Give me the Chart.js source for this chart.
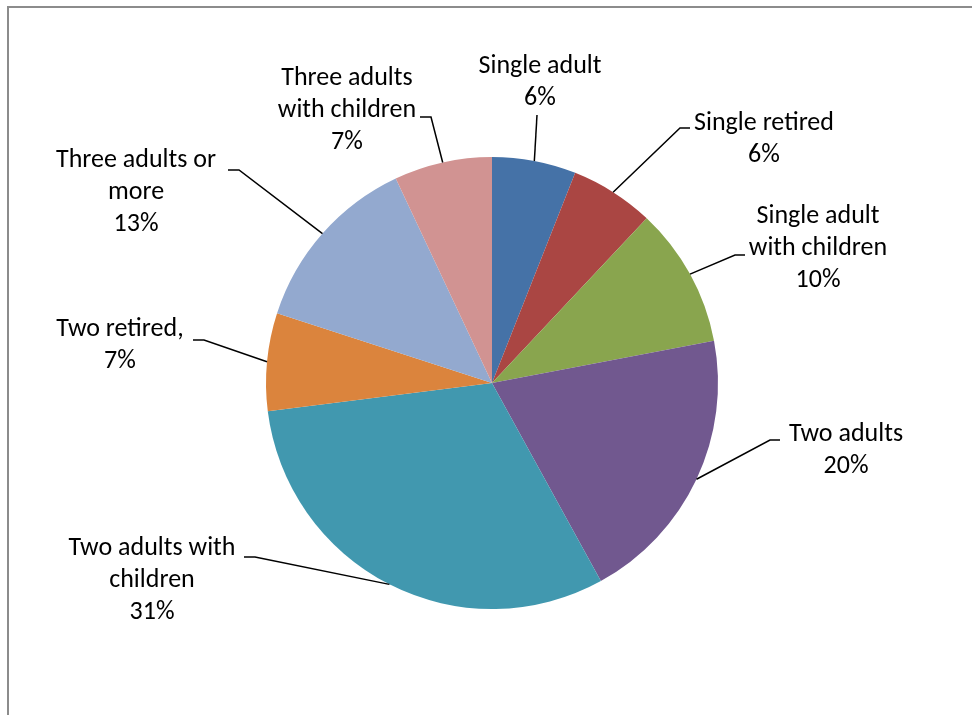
<!DOCTYPE html>
<html>
<head>
<meta charset="utf-8">
<script src="https://cdn.jsdelivr.net/npm/chart.js@4"></script>
<style>
  html, body { margin: 0; padding: 0; background: #fff; }
  #frame {
    position: absolute; left: 7px; top: 6px; width: 965px; height: 709px;
    border-top: 2px solid #8c8c8c; border-left: 2px solid #8c8c8c;
  }
  #wrap { position: absolute; left: 0; top: 0; width: 972px; height: 715px; }
</style>
</head>
<body>
<div id="frame"></div>
<div id="wrap"><canvas id="pie" width="972" height="715"></canvas></div>
<script>
// household types and their share (percent)
const categories = [
  ["Single adult"],
  ["Single retired"],
  ["Single adult", "with children"],
  ["Two adults"],
  ["Two adults with", "children"],
  ["Two retired,"],
  ["Three adults or", "more"],
  ["Three adults", "with children"]
];
const shares = [6, 6, 10, 20, 31, 7, 13, 7];
const sliceColors = ["#4572a7", "#aa4643", "#89a54e", "#71588f", "#4198af", "#db843d", "#93a9cf", "#d19392"];

// label block centre and leader end, relative to the pie centre
const labelLayout = [
  { c: [48, -301],  end: [45, -268],  side: "bottom" },
  { c: [272, -244], end: [198, -255], side: "right" },
  { c: [326, -135], end: [253, -128], side: "right" },
  { c: [354, 67],   end: [288, 57],   side: "right" },
  { c: [-340, 197], end: [-248, 174], side: "left" },
  { c: [-372, -38], end: [-299, -43], side: "left" },
  { c: [-356, -191],end: [-264, -213],side: "left" },
  { c: [-145, -273],end: [-72, -266], side: "left" }
];

const FONT = '26px Carlito, Lato, "Liberation Sans", sans-serif';
const LINE_H = 32;

const outsideLabels = {
  id: "outsideLabels",
  afterDatasetsDraw(chart) {
    const ctx = chart.ctx;
    const arcs = chart.getDatasetMeta(0).data;
    ctx.save();
    ctx.font = FONT;
    ctx.fillStyle = "#000";
    ctx.strokeStyle = "#000";
    ctx.lineWidth = 1.5;
    ctx.textAlign = "center";
    ctx.textBaseline = "middle";
    arcs.forEach(function (arc, i) {
      const p = arc.getProps(["x", "y", "startAngle", "endAngle", "outerRadius"], true);
      const mid = (p.startAngle + p.endAngle) / 2;
      const sx = p.x + Math.cos(mid) * p.outerRadius;
      const sy = p.y + Math.sin(mid) * p.outerRadius;
      const lay = labelLayout[i];
      const ex = p.x + lay.end[0], ey = p.y + lay.end[1];

      // leader line
      ctx.beginPath();
      ctx.moveTo(sx, sy);
      if (lay.side === "right") {
        ctx.lineTo(ex - 10, ey);
      } else if (lay.side === "left") {
        ctx.lineTo(ex + 11, ey);
      }
      ctx.lineTo(ex, ey);
      ctx.stroke();

      // text block
      const lines = categories[i].concat([shares[i] + "%"]);
      const cx = p.x + lay.c[0];
      const top = p.y + lay.c[1] - (lines.length - 1) * LINE_H / 2;
      lines.forEach(function (t, k) {
        ctx.fillText(t, cx, top + k * LINE_H);
      });
    });
    ctx.restore();
  }
};

new Chart(document.getElementById("pie"), {
  type: "pie",
  data: {
    labels: categories.map(function (c) { return c.join(" "); }),
    datasets: [{
      data: shares,
      backgroundColor: sliceColors,
      borderWidth: 0
    }]
  },
  options: {
    responsive: false,
    animation: false,
    layout: { padding: { top: 157, bottom: 106, left: 266, right: 254 } },
    plugins: {
      legend: { display: false },
      tooltip: { enabled: false }
    }
  },
  plugins: [outsideLabels]
});
</script>
</body>
</html>
